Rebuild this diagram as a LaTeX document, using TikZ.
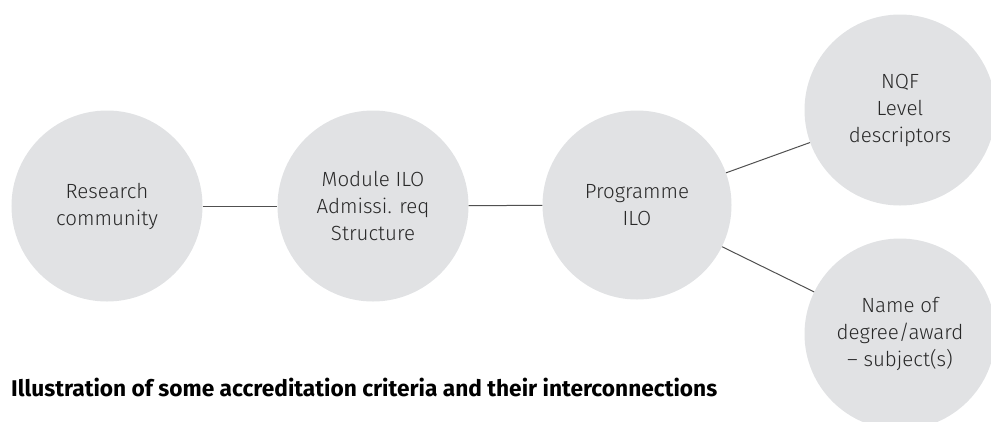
\documentclass[tikz,border=0pt]{standalone}
\usepackage{fontspec}
\setmainfont{Fira Sans}
\newfontfamily\lightfont{Fira Sans Light}
\newfontfamily\boldfont{Fira Sans Bold}
\definecolor{circfill}{RGB}{225,226,228}
\definecolor{linecol}{RGB}{80,80,80}
\definecolor{txtcol}{RGB}{40,40,40}
\begin{document}
\begin{tikzpicture}[x=1bp,y=-1bp,
  bubble/.style={circle,fill=circfill,inner sep=0pt,minimum size=191bp,
    align=center,text=txtcol,font=\lightfont\fontsize{20.5bp}{27bp}\selectfont},
  link/.style={draw=linecol,line width=1bp}]
\clip (0,0) rectangle (991,421);
\node[bubble] (res) at (107,206) {Research\\community};
\node[bubble] (mod) at (373,206) {Module ILO\\Admissi. req\\Structure};
\node[bubble,minimum size=189bp] (prog) at (637,205) {Programme\\ILO};
\node[bubble] (nqf) at (900,110) {NQF\\Level\\descriptors};
\node[bubble] (name) at (900,334) {Name of\\degree/award\\– subject(s)};
\draw[link] (res) -- (mod);
\draw[link] (mod) -- (prog);
\draw[link] (prog) -- (nqf);
\draw[link] (prog) -- (name);
\node[anchor=base west,inner sep=0pt,text=black,font=\boldfont\fontsize{22.7bp}{26bp}\selectfont] (cap) at (11,396) {Illustration of some accreditation criteria and their interconnections};
\end{tikzpicture}
\end{document}
